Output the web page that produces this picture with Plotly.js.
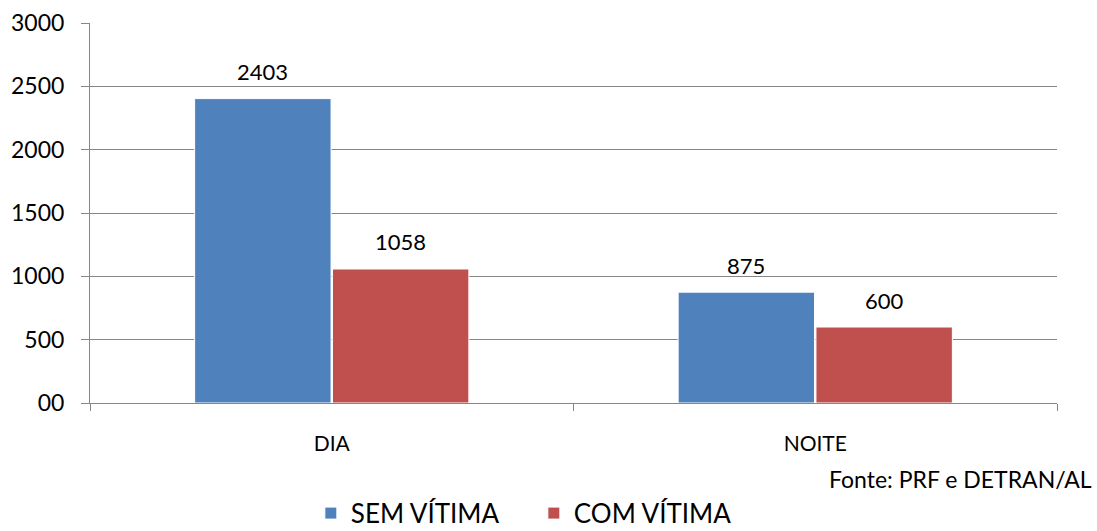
<!DOCTYPE html>
<html>
<head>
<meta charset="utf-8">
<script src="https://cdn.plot.ly/plotly-3.0.1.min.js"></script>
<style>html,body{margin:0;padding:0;background:#fff;}#chart{width:1097px;height:531px;}</style>
</head>
<body>
<div id="chart"></div>
<script>
const categories = ["DIA", "NOITE"];
const semVitima = [2403, 875];
const comVitima = [1058, 600];
const seriesNames = ["SEM VÍTIMA", "COM VÍTIMA"];
const yTickVals = [0, 500, 1000, 1500, 2000, 2500, 3000];
const yTickText = ["00", "500", "1000", "1500", "2000", "2500", "3000"];
const sourceText = "Fonte: PRF e DETRAN/AL";

const FONT = "Lato, 'Open Sans', 'Liberation Sans', sans-serif";
const BARGAP = 0.43;
const barOffset = (1 - BARGAP) / 4;

const traces = [
  {type: "bar", name: seriesNames[0], x: categories, y: semVitima,
   marker: {color: "#4F81BD", line: {color: "#ffffff", width: 1}}},
  {type: "bar", name: seriesNames[1], x: categories, y: comVitima,
   marker: {color: "#C0504D", line: {color: "#ffffff", width: 1}}}
];

const labelAnns = [];
[semVitima, comVitima].forEach((vals, si) => {
  vals.forEach((v, ci) => {
    labelAnns.push({x: ci + (si === 0 ? -barOffset : barOffset), y: v, xref: "x", yref: "y",
      text: String(v), showarrow: false, yanchor: "middle", yshift: 27,
      font: {family: FONT, size: 22, color: "#000"}});
  });
});

const layout = {
  width: 1097, height: 531,
  margin: {l: 90, r: 40, t: 23, b: 128, autoexpand: false},
  paper_bgcolor: "#fff", plot_bgcolor: "#fff",
  font: {family: FONT, color: "#000"},
  barmode: "group", bargap: BARGAP, bargroupgap: 0.01,
  xaxis: {
    showgrid: false, showline: true, linecolor: "#868686", linewidth: 1,
    ticks: "outside", tickson: "boundaries", ticklen: 7, tickcolor: "#868686",
    ticklabelstandoff: 22,
    tickfont: {family: FONT, size: 21, color: "#000"}, fixedrange: true
  },
  yaxis: {
    range: [0, 3000], tickvals: yTickVals, ticktext: yTickText,
    showgrid: true, gridcolor: "#868686", gridwidth: 1,
    showline: true, linecolor: "#868686", linewidth: 1,
    ticks: "outside", ticklen: 8, tickcolor: "#868686", ticklabelstandoff: 12,
    tickfont: {family: FONT, size: 23, color: "#000"}, zeroline: false, fixedrange: true
  },
  showlegend: true,
  legend: {orientation: "h", x: 0.459, xanchor: "center", y: -0.29, yanchor: "middle",
           font: {family: FONT, size: 26, color: "#000"}, traceorder: "normal", itemwidth: 30,
           entrywidth: 178, entrywidthmode: "pixels"},
  annotations: labelAnns.concat([{text: sourceText, xref: "paper", yref: "paper", x: 1.038, xanchor: "right",
                 y: -0.2, yanchor: "middle", showarrow: false,
                 font: {family: FONT, size: 23, color: "#000"}}])
};

Plotly.newPlot("chart", traces, layout, {displayModeBar: false, staticPlot: true});
</script>
</body>
</html>
